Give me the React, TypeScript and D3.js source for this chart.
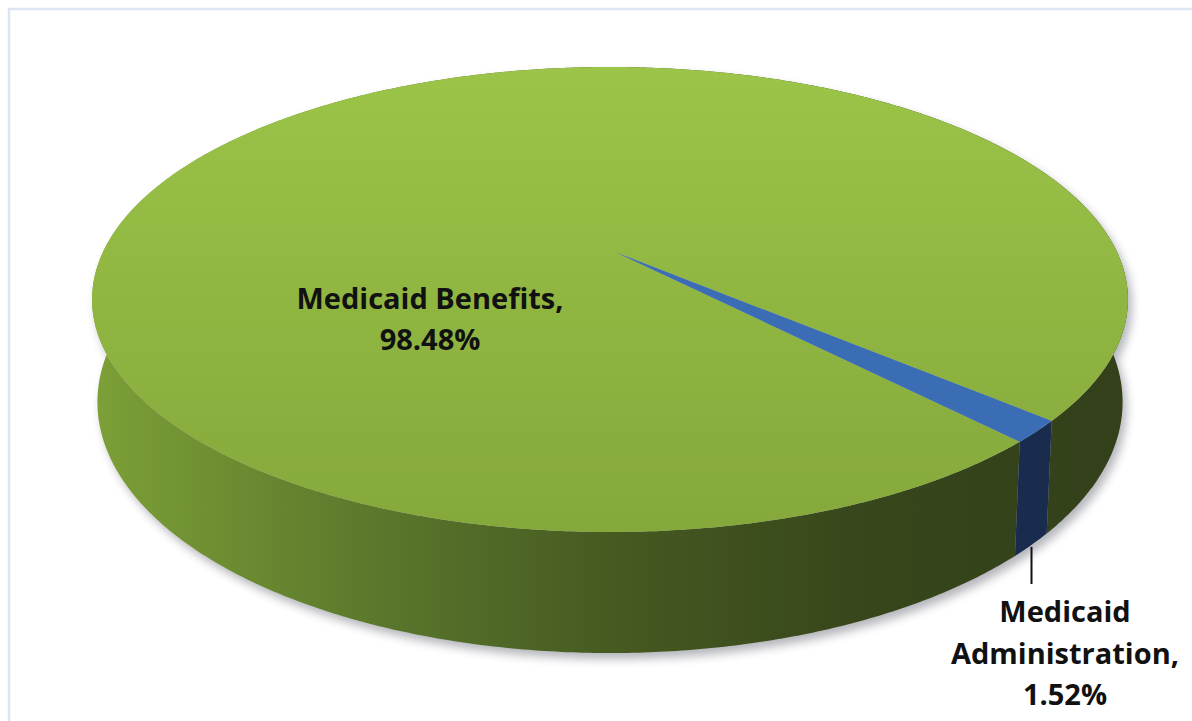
import React from 'react';
import * as d3 from 'd3';

// ---- data ----
const categories = ['Medicaid Benefits', 'Medicaid Administration'];
const values = [98.48, 1.52];
const labelLines = [
  ['Medicaid Benefits,', '98.48%'],
  ['Medicaid', 'Administration,', '1.52%'],
];

// ---- layout ----
const W = 1192;
const H = 721;
const CX = 610;
const CY = 252;
const RA = 507;
const RB = 222.8;
const K = 0.2043;
const KZ = 0.01;
const DEPTH = 100.3;
const START = (136.5 * Math.PI) / 180;

const topColors = ['#9bc448', '#85a83b'];
const adminTop = '#3a6db4';
const adminSide = '#1a2c4e';

function proj(phi: number, z: number): [number, number] {
  const u = Math.cos(phi);
  const v = Math.sin(phi);
  const w = 1 - K * v + KZ * z;
  return [CX + (RA * u) / w, CY + (RB * v + DEPTH * z) / w];
}

function rim(a0: number, a1: number, z: number): [number, number][] {
  const n = Math.max(2, Math.ceil(Math.abs(a1 - a0) / (Math.PI / 360)));
  const pts: [number, number][] = [];
  for (let i = 0; i <= n; i++) {
    const a = a0 + ((a1 - a0) * i) / n;
    pts.push(proj(a - Math.PI / 2, z));
  }
  return pts;
}

const line = d3.line<[number, number]>().x((d) => d[0]).y((d) => d[1]);

export default function App() {
  const pie = d3
    .pie<number>()
    .sort(null)
    .startAngle(START)
    .endAngle(START + 2 * Math.PI)
    .value((d) => d);
  const arcs = pie(values);

  const centerPt: [number, number] = [CX + 5, CY];

  const walls = arcs.map((a) => {
    const top = rim(a.startAngle, a.endAngle, 0);
    const bot = rim(a.startAngle, a.endAngle, 1).reverse();
    return line([...top, ...bot]) + 'Z';
  });
  const tops = arcs.map((a) => {
    const r = rim(a.startAngle, a.endAngle, 0);
    return line([centerPt, ...r]) + 'Z';
  });
  const fullTop = line(rim(0, 2 * Math.PI, 0)) + 'Z';
  const fullBot = line(rim(0, 2 * Math.PI, 1)) + 'Z';

  const admin = arcs[1];
  const mid = (admin.startAngle + admin.endAngle) / 2;
  const leadStart = proj(mid - Math.PI / 2, 1);

  const font = '"Open Sans", Lato, sans-serif';

  return (
    <svg
      width={W}
      height={H}
      style={{ position: 'absolute', left: 0, top: 0, background: '#fff' }}
    >
      <defs>
        <linearGradient id="sideGrad" gradientUnits="userSpaceOnUse" x1={90} y1={0} x2={1130} y2={0}>
          <stop offset="0" stopColor="#7da037" />
          <stop offset="0.3" stopColor="#58742b" />
          <stop offset="0.5" stopColor="#465a21" />
          <stop offset="0.75" stopColor="#37461b" />
          <stop offset="1" stopColor="#33401a" />
        </linearGradient>
        <linearGradient id="topGrad" gradientUnits="userSpaceOnUse" x1={0} y1={68} x2={0} y2={533}>
          <stop offset="0" stopColor={topColors[0]} />
          <stop offset="1" stopColor={topColors[1]} />
        </linearGradient>
        <filter id="shadow" x="-10%" y="-10%" width="120%" height="130%">
          <feGaussianBlur stdDeviation="5" />
        </filter>
      </defs>
      <rect x={9} y={9} width={1400} height={1000} fill="#fff" stroke="#dce6f2" strokeWidth={2.5} />
      <g filter="url(#shadow)" transform="translate(4,6)" opacity={0.38}>
        <path d={fullTop} fill="#3d4050" />
        <path d={fullBot} fill="#3d4050" />
      </g>
      {walls.map((d, i) => (
        <path key={'w' + categories[i]} d={d} fill={i === 0 ? 'url(#sideGrad)' : adminSide} />
      ))}
      {tops.map((d, i) => (
        <path key={'t' + categories[i]} d={d} fill={i === 0 ? 'url(#topGrad)' : adminTop} />
      ))}
      <line
        x1={leadStart[0]}
        y1={leadStart[1] + 2}
        x2={leadStart[0]}
        y2={584}
        stroke="#111"
        strokeWidth={2}
      />
      <g fontFamily={font} fontWeight="bold" fontSize={29} fill="#111" textAnchor="middle">
        {labelLines[0].map((t, i) => (
          <text key={t} x={430} y={309 + i * 41}>
            {t}
          </text>
        ))}
        {labelLines[1].map((t, i) => (
          <text key={t} x={1065} y={622 + i * 41.5}>
            {t}
          </text>
        ))}
      </g>
    </svg>
  );
}
